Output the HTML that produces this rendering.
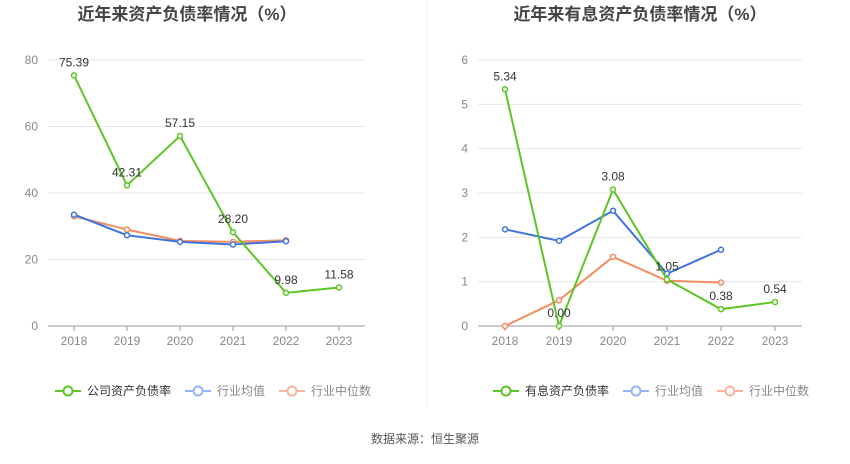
<!DOCTYPE html>
<html><head><meta charset="utf-8">
<style>
body{margin:0;background:#fff;font-family:"Liberation Sans","Noto Sans CJK SC",sans-serif;}
svg text{font-family:"Liberation Sans","Noto Sans CJK SC",sans-serif;}
</style></head>
<body>
<svg id="c" width="850" height="459"></svg>
<script>
const years=["2018","2019","2020","2021","2022","2023"];
const leftMain=[75.39,42.31,57.15,28.20,9.98,11.58];
const leftMean=[33.5,27.3,25.3,24.5,25.5];
const leftMedian=[33.0,29.0,25.6,25.3,25.8];
const leftTicks=[0,20,40,60,80];
const rightMain=[5.34,0.00,3.08,1.05,0.38,0.54];
const rightMean=[2.18,1.92,2.6,1.18,1.72];
const rightMedian=[0,0.58,1.56,1.02,0.98];
const rightTicks=[0,1,2,3,4,5,6];
const NS="http://www.w3.org/2000/svg";
const svg=document.getElementById('c');
function el(t,a,p){const e=document.createElementNS(NS,t);for(const k in a)e.setAttribute(k,a[k]);(p||svg).appendChild(e);return e;}
function chart(cfg){
  const g=el('g',{});
  
  
  const y=v=>cfg.y0-(v/cfg.max)*(cfg.y0-cfg.y1);
  const x=i=>cfg.x0+i*cfg.dx;
  const t=el('text',{x:cfg.cx,y:20,'text-anchor':'middle','font-size':17,'font-weight':'bold',fill:'#444'},g);t.textContent=cfg.title;
  
  cfg.ticks.forEach(v=>{
    const l=el('line',{x1:cfg.gx0,x2:cfg.gx1,y1:y(v),y2:y(v),stroke:v===0?'#999':'#e4e6ef','stroke-width':1},g);
    
    const tt=el('text',{x:cfg.gx0-10,y:y(v)+4,'text-anchor':'end','font-size':12,fill:'#888'},g);tt.textContent=v;
    
  });
  years.forEach((yr,i)=>{
    const tk=el('line',{x1:x(i),x2:x(i),y1:cfg.y0,y2:cfg.y0+5,stroke:'#999'},g);
    
    const tt=el('text',{x:x(i),y:cfg.y0+19,'text-anchor':'middle','font-size':12,fill:'#888'},g);tt.textContent=yr;
    
  });
  function series(vals,color,nm,labels){
    const pts=vals.map((v,i)=>x(i)+','+y(v)).join(' ');
    const pl=el('polyline',{points:pts,fill:'none',stroke:color,'stroke-width':2},g);
    
    vals.forEach((v,i)=>{
      const c=el('circle',{cx:x(i),cy:y(v),r:2.5,fill:'#fff',stroke:color,'stroke-width':1.5},g);
      
      if(labels){
        const lt=el('text',{x:x(i),y:y(v)-9,'text-anchor':'middle','font-size':12,fill:'#333'},g);
        lt.textContent=v.toFixed(2);
        
      }
    });
  }
  series(cfg.median,'#f58c5f','median');
  series(cfg.mean,'#3f74e0','mean');
  series(cfg.main,'#5dc524','main',true);
  const ly=391;
  const items=[[cfg.mainName,'#5dc524','#333'],['行业均值','#94b4f3','#888'],['行业中位数','#f9b49c','#888']];
  let lx=cfg.lx;
  items.forEach((it,k)=>{
    const lg=el('g',{},g);
    
    el('line',{x1:lx,x2:lx+26,y1:ly,y2:ly,stroke:it[1],'stroke-width':2},lg);
    el('circle',{cx:lx+13,cy:ly,r:4.5,fill:'#fff',stroke:it[1],'stroke-width':2},lg);
    const tt=el('text',{x:lx+32,y:ly+4,'font-size':12,fill:it[2]},lg);tt.textContent=it[0];
    lx+=32+it[0].length*12+14;
  });
}
chart({name:'left-chart',title:'近年来资产负债率情况（%）',cx:187,x0:74,dx:53,y0:326,y1:60,max:80,gx0:48,gx1:365,ticks:leftTicks,main:leftMain,mean:leftMean,median:leftMedian,mainName:'公司资产负债率',lx:55});
chart({name:'right-chart',title:'近年来有息资产负债率情况（%）',cx:640,x0:505,dx:54,y0:326,y1:60,max:6,gx0:478,gx1:802,ticks:rightTicks,main:rightMain,mean:rightMean,median:rightMedian,mainName:'有息资产负债率',lx:493});
const d=el('line',{x1:427,x2:427,y1:0,y2:408,stroke:'#eee'});

const src=el('text',{x:425,y:443,'text-anchor':'middle','font-size':12,fill:'#555'});src.textContent='数据来源：恒生聚源';

</script>
</body></html>
